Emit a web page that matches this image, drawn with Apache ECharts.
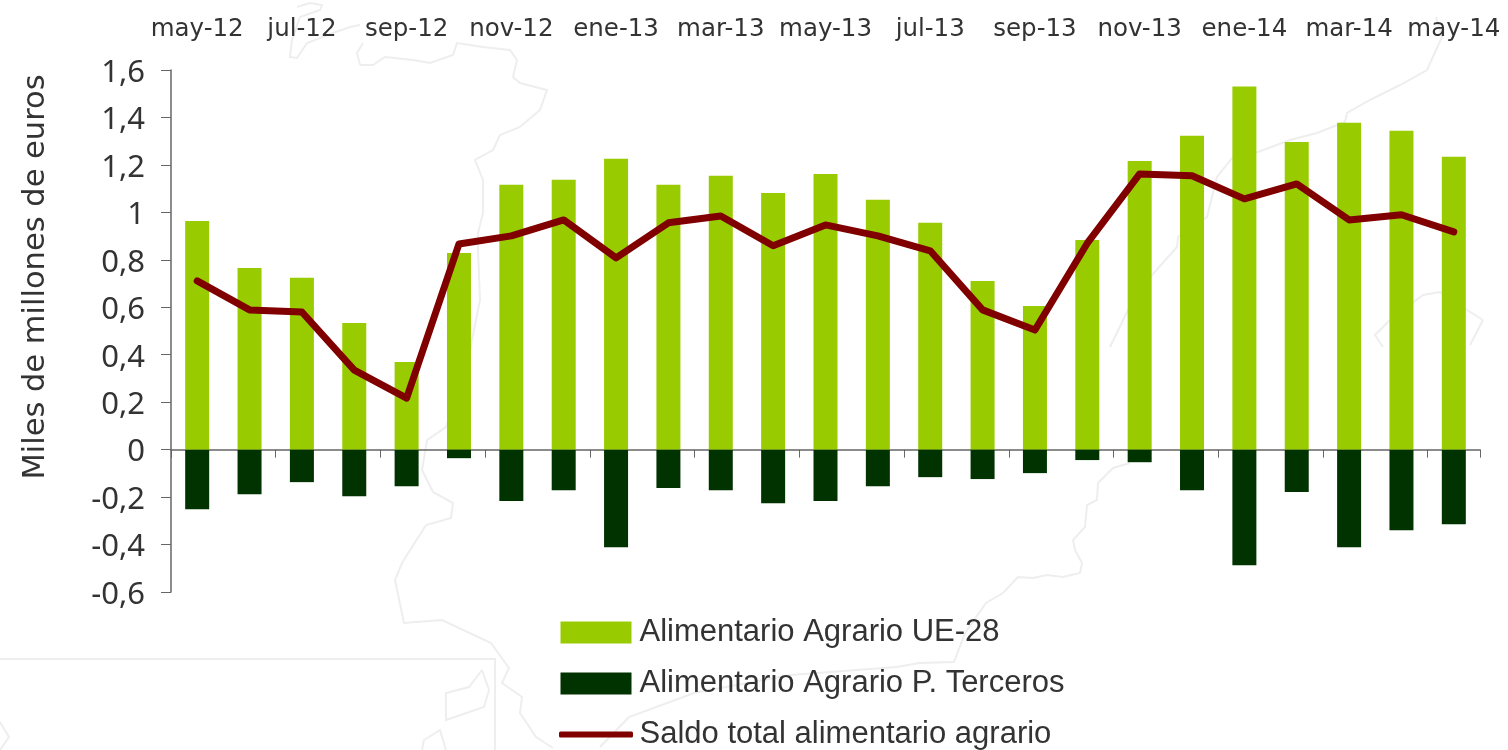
<!DOCTYPE html>
<html><head><meta charset="utf-8">
<style>html,body{margin:0;padding:0;background:#fff}#c{width:1508px;height:750px}</style>
<script src="https://cdn.jsdelivr.net/npm/echarts@6/dist/echarts.min.js"></script>
</head><body><div id="c"></div>
<script>
const categories = ['may-12','jun-12','jul-12','ago-12','sep-12','oct-12','nov-12','dic-12','ene-13','feb-13','mar-13','abr-13','may-13','jun-13','jul-13','ago-13','sep-13','oct-13','nov-13','dic-13','ene-14','feb-14','mar-14','abr-14','may-14'];
const ue28 = [0.964,0.766,0.724,0.534,0.369,0.829,1.116,1.137,1.226,1.116,1.154,1.082,1.162,1.053,0.956,0.711,0.605,0.884,1.217,1.323,1.53,1.297,1.378,1.344,1.234];
const terceros = [-0.251,-0.188,-0.137,-0.196,-0.154,-0.036,-0.217,-0.171,-0.411,-0.162,-0.171,-0.226,-0.217,-0.154,-0.116,-0.124,-0.099,-0.044,-0.053,-0.171,-0.487,-0.179,-0.411,-0.34,-0.314];
const saldo = [0.711,0.589,0.58,0.335,0.217,0.867,0.901,0.968,0.808,0.956,0.985,0.859,0.947,0.901,0.838,0.589,0.504,0.87,1.162,1.154,1.057,1.12,0.968,0.99,0.918];
const seriesNames = ['Alimentario Agrario UE-28','Alimentario Agrario P. Terceros','Saldo total alimentario agrario'];
const yName = 'Miles de millones de euros';
// faint background map, decoration only
const mapOutlines = [
 [[297,7],[310,3],[322,5],[320,10],[300,17],[292,40],[290,57],[297,58],[307,43],[333,33],[350,27],[360,25]],
 [[360,65],[373,65],[385,57],[413,60],[430,63],[453,55],[457,43],[483,47],[510,50],[517,60],[513,77],[520,83],[547,90],[540,110],[520,127],[500,135],[493,150],[475,160],[483,180],[483,213],[478,233],[478,250],[480,300],[470,350],[455,400],[446,427],[427,440],[422,470],[433,492],[453,503],[451,518],[426,525],[402,563],[395,580],[404,623],[442,620],[491,643],[509,668],[502,683],[522,697],[520,713],[536,737],[553,748]],
 [[360,65],[357,53],[363,43]],
 [[0,659],[495,659],[495,750]],
 [[482,670],[489,690],[484,707],[446,720],[446,693],[469,687],[482,670]],
 [[422,750],[424,740],[440,730],[446,750]],
 [[0,722],[9,737],[0,750]],
 [[1436,17],[1442,37],[1427,70],[1400,85],[1370,100],[1347,113],[1345,122],[1317,133],[1290,140],[1258,152],[1233,157],[1217,177],[1207,217],[1178,237],[1177,247],[1152,275],[1128,310],[1110,347]],
 [[1130,463],[1113,468],[1098,483],[1097,500],[1087,505],[1085,527],[1073,540],[1075,550],[1082,563],[1080,573],[1063,577],[1047,575],[1033,578],[1018,577],[1003,593],[986,603],[965,633],[954,662],[919,663],[897,667],[790,675],[694,693],[629,717],[600,747]],
 [[1483,320],[1467,310],[1440,292],[1423,295],[1390,320],[1375,335],[1383,347]],
 [[1483,320],[1470,345]]
];
const chart = echarts.init(document.getElementById('c'), null, {renderer:'canvas'});
const txt = '#333333', ax = '#666666';
chart.setOption({
 animation:false,
 backgroundColor:'#fff',
 graphic: mapOutlines.map(p => ({type:'polyline',silent:true,z:0,shape:{points:p},style:{stroke:'#eeeeee',lineWidth:2,fill:null}})),
 grid:{left:171,right:28,top:70,bottom:158,containLabel:false},
 legend:{
  orient:'vertical',left:559,top:617,padding:0,height:220,itemWidth:71,itemHeight:22,itemGap:20,
  textStyle:{fontFamily:'Liberation Sans',fontSize:31,color:txt,padding:[0,0,0,3]},
  data:[{name:seriesNames[0],icon:'rect'},{name:seriesNames[1],icon:'rect'},
   {name:seriesNames[2],icon:'path://M0,0 M0,9.5 L71,9.5 L71,12.5 L0,12.5 Z M71,22',
    itemStyle:{color:'#800000',borderColor:'#800000',borderWidth:3,borderJoin:'round'}}]
 },
 xAxis:[
  {type:'category',data:categories,position:'top',
   axisLine:{show:false,onZero:false},axisTick:{show:false},
   axisLabel:{interval:1,margin:28,fontFamily:'DejaVu Sans',fontSize:24.5,color:txt}},
  {type:'category',data:categories,position:'bottom',
   axisLine:{onZero:true,lineStyle:{color:ax,width:1.5}},
   axisTick:{show:true,interval:1,length:8,lineStyle:{color:ax,width:1}},
   axisLabel:{show:false}}
 ],
 yAxis:{type:'value',min:-0.6,max:1.6,interval:0.2,
  name:yName,nameLocation:'middle',nameGap:119,
  nameTextStyle:{fontFamily:'DejaVu Sans',fontSize:30.5,color:txt,padding:[0,0,0,108]},
  axisLine:{show:true,lineStyle:{color:ax,width:1.5}},
  axisTick:{show:true,length:10,lineStyle:{color:ax,width:1}},
  splitLine:{show:false},
  axisLabel:{margin:26,color:txt,
   rich:{v:{fontFamily:'Noto Sans',fontSize:31,color:txt,padding:[6,0,0,0]}},
   formatter:v=>'{v|'+String(Number(v.toFixed(1))).replace('.',',')+'}'}},
 series:[
  {name:seriesNames[0],type:'bar',stack:'s',barWidth:24,data:ue28,itemStyle:{color:'#99CC00'}},
  {name:seriesNames[1],type:'bar',stack:'s',barWidth:24,data:terceros,itemStyle:{color:'#003300'}},
  {name:seriesNames[2],type:'line',data:saldo,symbol:'none',z:5,
   lineStyle:{color:'#800000',width:7,cap:'round',join:'round'},itemStyle:{color:'#800000'}}
 ]
});
</script></body></html>
